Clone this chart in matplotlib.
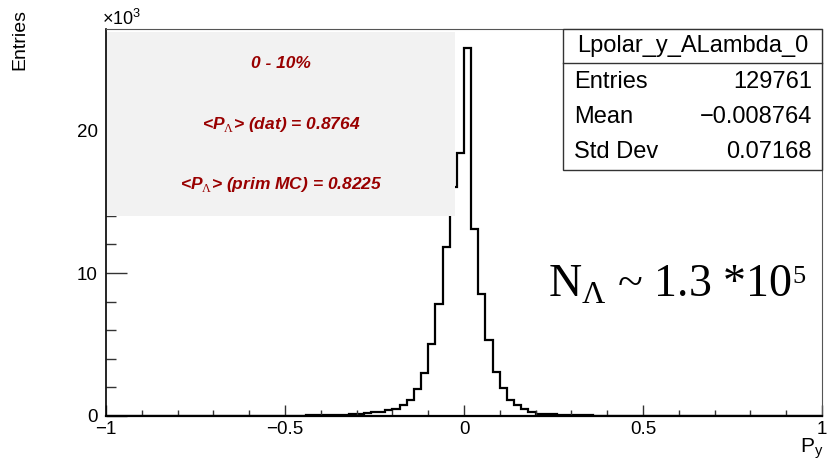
import numpy as np
import matplotlib.pyplot as plt
from matplotlib.patches import Rectangle
from matplotlib.ticker import MultipleLocator

plt.rcParams['font.family'] = ['Liberation Sans', 'DejaVu Sans']
plt.rcParams['mathtext.fontset'] = 'custom'
plt.rcParams['mathtext.rm'] = 'Liberation Serif'
plt.rcParams['mathtext.sf'] = 'Liberation Sans'

# histogram: 100 bins on [-1, 1], entries in units of 10^3
x_min, x_max, n_bins = -1.0, 1.0, 100
entries_k = [0.0] * 27 + [
    0.01, 0.02,                                               # -0.46 .. -0.44
    0.05, 0.06, 0.06, 0.07, 0.08, 0.09,                       # -0.42 .. -0.32
    0.13, 0.16, 0.24, 0.27, 0.37, 0.47, 0.72, 1.08,           # -0.30 .. -0.16
    1.88, 2.97, 5.02, 7.8, 11.8, 16.0, 18.4,                  # -0.14 .. -0.02
    25.8, 13.1, 8.5, 5.3, 3.08, 1.92, 1.12, 0.78, 0.49, 0.27, # 0.00 .. 0.18
    0.14, 0.12, 0.09, 0.07, 0.05, 0.04, 0.03, 0.02, 0.01,     # 0.20 .. 0.36
] + [0.0] * 31

hist_name = "Lpolar_y_ALambda_0"
stat_labels = ["Entries", "Mean", "Std Dev"]
stat_values = ["129761", "\u22120.008764", "0.07168"]
pave_lines = ["0 - 10%",
              r"<P$_{\Lambda}$> (dat) = 0.8764",
              r"<P$_{\Lambda}$> (prim MC) = 0.8225"]
big_label = r"N$_{\Lambda}$ ~ 1.3 *10"
big_exp = "5"

W, H = 827, 459
fig = plt.figure(figsize=(W / 100, H / 100), dpi=100)
ax = fig.add_axes([106 / W, 1 - 415.7 / H, 716 / W, 386.7 / H])

edges = np.linspace(x_min, x_max, n_bins + 1)
ax.stairs(entries_k, edges, color='black', lw=1.6, zorder=1.5)

ax.set_xlim(x_min, x_max)
ax.set_ylim(0, 27.1)
ax.xaxis.set_major_locator(MultipleLocator(0.5))
ax.xaxis.set_minor_locator(MultipleLocator(0.1))
ax.yaxis.set_major_locator(MultipleLocator(10))
ax.yaxis.set_minor_locator(MultipleLocator(2))
ax.xaxis.set_major_formatter(lambda v, p: "0" if abs(v) < 1e-9 else ("%g" % v).replace("-", "\u2212"))

ax.tick_params(axis='both', which='both', direction='in', labelsize=13.5, color='#333333', width=1)
ax.tick_params(axis='x', which='major', length=8, pad=4)
ax.tick_params(axis='x', which='minor', length=4)
ax.tick_params(axis='y', which='major', length=15, pad=6)
ax.tick_params(axis='y', which='minor', length=7.5)
ax.tick_params(top=False, right=False, which='both')

ax.spines['bottom'].set_linewidth(1.6)
ax.spines['left'].set_linewidth(1.2)
for s in ['top', 'right']:
    ax.spines[s].set_linewidth(0.8)
    ax.spines[s].set_color('#555555')

# grey info pave
ax.add_patch(Rectangle((0, 0.5164), 0.4874, 0.4758, transform=ax.transAxes,
                       facecolor='#f2f2f2', edgecolor='none', zorder=2))
for txt, yy in zip(pave_lines, [0.9095, 0.7543, 0.5966]):
    ax.text(0.2444, yy, txt, transform=ax.transAxes, ha='center', va='center',
            color='#990000', fontsize=12.5, fontweight='bold', fontstyle='italic', zorder=3)

# stats box
fig.patches.append(Rectangle((563 / W, 1 - 170 / H), 259 / W, 141 / H, transform=fig.transFigure,
                             facecolor='white', edgecolor='#333333', lw=1, zorder=3))
fig.lines.append(plt.Line2D([563 / W, 822 / W], [1 - 63 / H, 1 - 63 / H],
                            transform=fig.transFigure, color='#333333', lw=1, zorder=4))
fig.text(692.5 / W, 1 - 46 / H, hist_name, ha='center', va='center', fontsize=17, zorder=5)
for lab, val, yy in zip(stat_labels, stat_values, [82, 117, 152]):
    fig.text(574 / W, 1 - yy / H, lab, ha='left', va='center', fontsize=17, zorder=5)
    fig.text(812 / W, 1 - yy / H, val, ha='right', va='center', fontsize=17, zorder=5)

# big annotation, exponent placed right after the main text
big = fig.text(548 / W, 1 - 297 / H, big_label, ha='left', va='baseline',
               fontsize=33, family='Liberation Serif')
fig.canvas.draw()
bb = big.get_window_extent()
fig.text(bb.x1 / W + 1 / W, 1 - 283 / H, big_exp, ha='left', va='baseline',
         fontsize=19, family='Liberation Serif')

# axis titles and exponent
fig.text(102 / W, 1 - 25 / H, "\u00d710$^{\\mathsf{3}}$", ha='left', va='baseline', fontsize=13)
fig.text(20 / W, 1 - 9 / H, "Entries", rotation=90, ha='center', va='top', fontsize=14)
fig.text(823 / W, 1 - 452 / H, r"P$_{\mathsf{y}}$", ha='right', va='baseline', fontsize=15)

fig.savefig("out.png", dpi=100)
